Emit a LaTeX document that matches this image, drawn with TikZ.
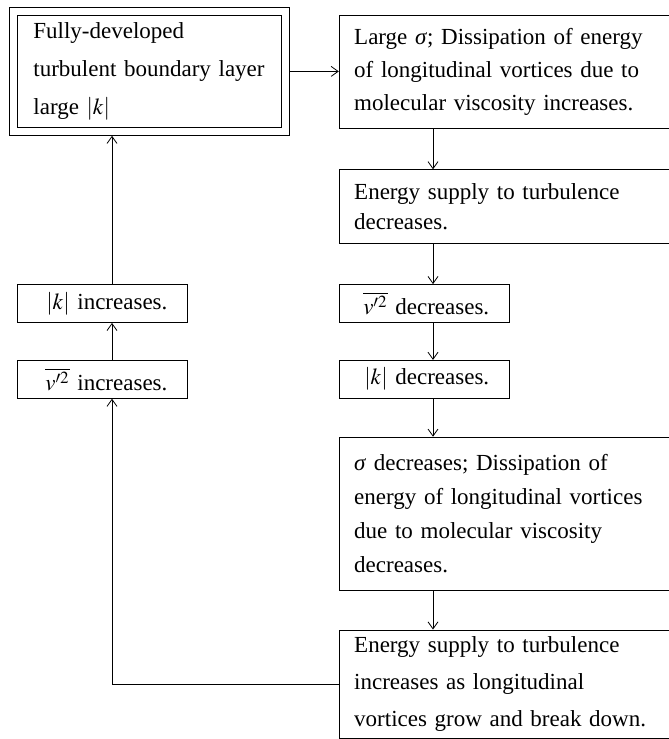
\documentclass[tikz,border=0pt]{standalone}
\usepackage{mathptmx}
\usepackage{fontspec}
\setmainfont{Liberation Serif}
\usetikzlibrary{arrows.meta,positioning}
\tikzset{%
    >={Straight Barb[length=3.5pt,width=5pt]},
    every node/.style={font=\fontsize{11.5pt}{14pt}\selectfont},
    lsp/.style={font=\fontsize{11.5pt}{#1}\selectfont},
    wide/.style={draw,align=left,text width=166pt,inner xsep=7.5pt},
    narrow/.style={draw,align=right,text width=65pt,inner xsep=10pt,minimum height=19pt},
    fr/.style={shift={(-4pt,4pt)}},
    br/.style={shift={(4pt,-4pt)}}
}

\begin{document}
\begin{tikzpicture}
            \useasboundingbox (0,0) rectangle (334.5pt,-369.5pt);
            \clip (0,0) rectangle (334.5pt,-369.5pt);
            \coordinate (colr) at (216.5pt,0);
            \coordinate (coll) at (56pt,0);
            \node [draw,align=left,text width=116pt,inner xsep=8pt,minimum height=56pt,lsp=19pt,anchor=north west] (fb-1) at (8.5pt,-7.5pt)
            {Fully-developed\\turbulent boundary layer\\large $|k|$};
            \draw ([fr]fb-1.north west) rectangle ([br]fb-1.south east);
            \node [wide,lsp=16.5pt,minimum height=56.5pt,right=28.5pt of fb-1] (fb-2)
            {Large \textit{σ}; Dissipation of energy\\of longitudinal vortices due to\\molecular viscosity increases.};
            \node [wide,lsp=15pt,minimum height=37pt,below=20.5pt of fb-2.south west,anchor=north west] (fb-3)
            {Energy supply to turbulence\\decreases.};
            \node [narrow,below=20pt of fb-3.south west,anchor=north west] (fb-4)
            {$\overline{v'^2}$ decreases.};
            \node [narrow,below=18.5pt of fb-4.south west,anchor=north west] (fb-5)
            {$|k|$ decreases.};
            \node [wide,lsp=17pt,minimum height=76.5pt,below=19pt of fb-5.south west,anchor=north west] (fb-6)
            {\textit{σ} decreases; Dissipation of\\energy of longitudinal vortices\\due to molecular viscosity\\decreases.};
            \node [wide,lsp=18.5pt,inner ysep=1pt,minimum height=54pt,below=19.5pt of fb-6.south west,anchor=north west] (fb-7)
            {Energy supply to turbulence\\increases as longitudinal\\vortices grow and break down.};
            \node [narrow,left=75.5pt of fb-5.west,anchor=east] (fb-8)
            {$\overline{v'^2}$ increases.};
            \node [narrow,left=75.5pt of fb-4.west,anchor=east] (fb-9)
            {$|k|$ increases.};
            %%%%%
            \draw[->,shorten <=4pt] (fb-1) -- (fb-2);
            \draw[->] (fb-2.south -| colr) -- (fb-3.north -| colr);
            \draw[->] (fb-3.south -| colr) -- (fb-4.north -| colr);
            \draw[->] (fb-4.south -| colr) -- (fb-5.north -| colr);
            \draw[->] (fb-5.south -| colr) -- (fb-6.north -| colr);
            \draw[->] (fb-6.south -| colr) -- (fb-7.north -| colr);
            \draw[->] (fb-7.west) -| (fb-8.south -| coll);
            \draw[->] (fb-8.north -| coll) -- (fb-9.south -| coll);
            \draw[->,shorten >=4pt] (fb-9.north -| coll) -- (fb-1.south -| coll);
\end{tikzpicture}
\end{document}
